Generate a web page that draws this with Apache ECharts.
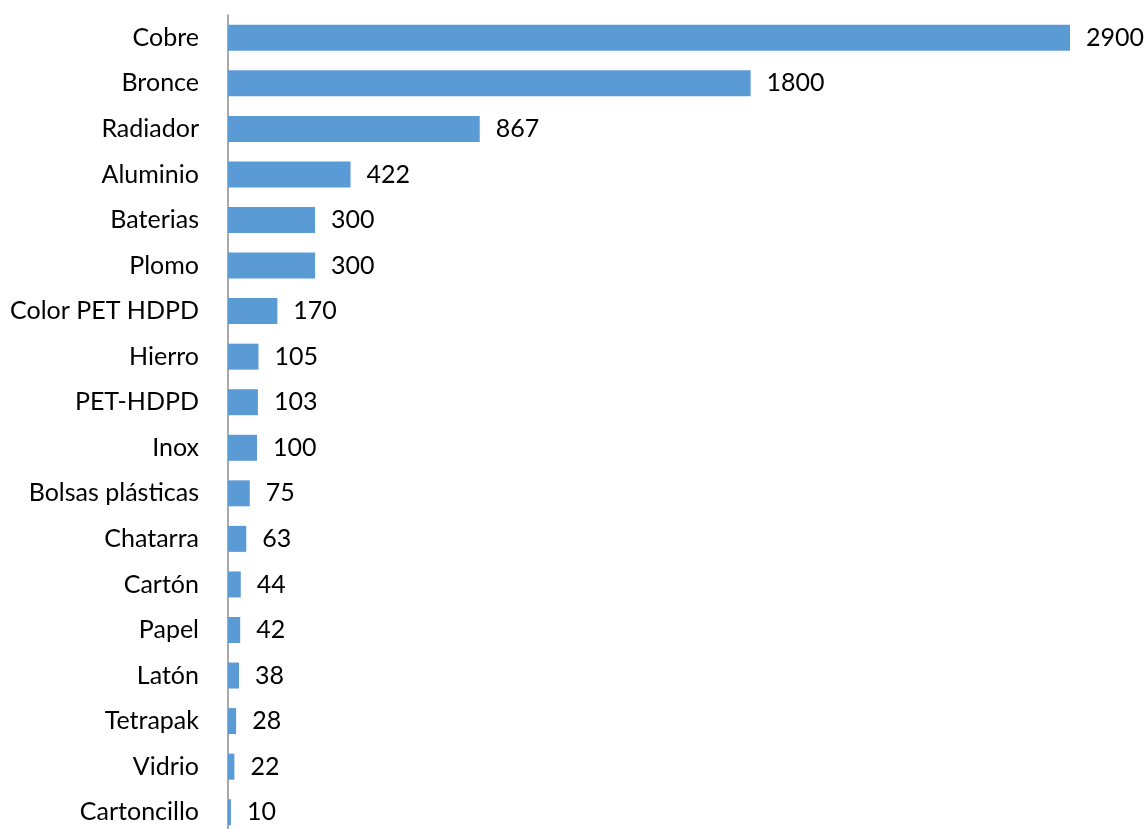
<!DOCTYPE html>
<html>
<head>
<meta charset="utf-8">
<script src="https://cdn.jsdelivr.net/npm/echarts@6/dist/echarts.min.js"></script>
<style>html,body{margin:0;padding:0;background:#fff;overflow:hidden;}#c{width:1147px;height:840px;}</style>
</head>
<body>
<div id="c"></div>
<script>
const categories = ["Cobre","Bronce","Radiador","Aluminio","Baterias","Plomo","Color PET HDPD","Hierro","PET-HDPD","Inox","Bolsas plásticas","Chatarra","Cartón","Papel","Latón","Tetrapak","Vidrio","Cartoncillo"];
const values = [2900,1800,867,422,300,300,170,105,103,100,75,63,44,42,38,28,22,10];

const chart = echarts.init(document.getElementById('c'), null, {renderer:'canvas'});
chart.setOption({
  animation: false,
  backgroundColor: '#ffffff',
  grid: {left: 228, top: 15, width: 842, height: 820, containLabel: false},
  xAxis: {type: 'value', min: 0, max: 2900, show: false},
  yAxis: {
    type: 'category', data: categories, inverse: true,
    axisLine: {show: true, lineStyle: {color: '#8c8c8c', width: 1.5}},
    axisTick: {show: false},
    axisLabel: {color: '#000', fontSize: 25, fontFamily: 'Lato', margin: 29}
  },
  series: [{
    type: 'bar', data: values, barWidth: 26,
    itemStyle: {color: '#5B9BD5'},
    label: {show: true, position: 'right', distance: 16, color: '#000', fontSize: 25, fontFamily: 'Lato'}
  }]
});
</script>
</body>
</html>
